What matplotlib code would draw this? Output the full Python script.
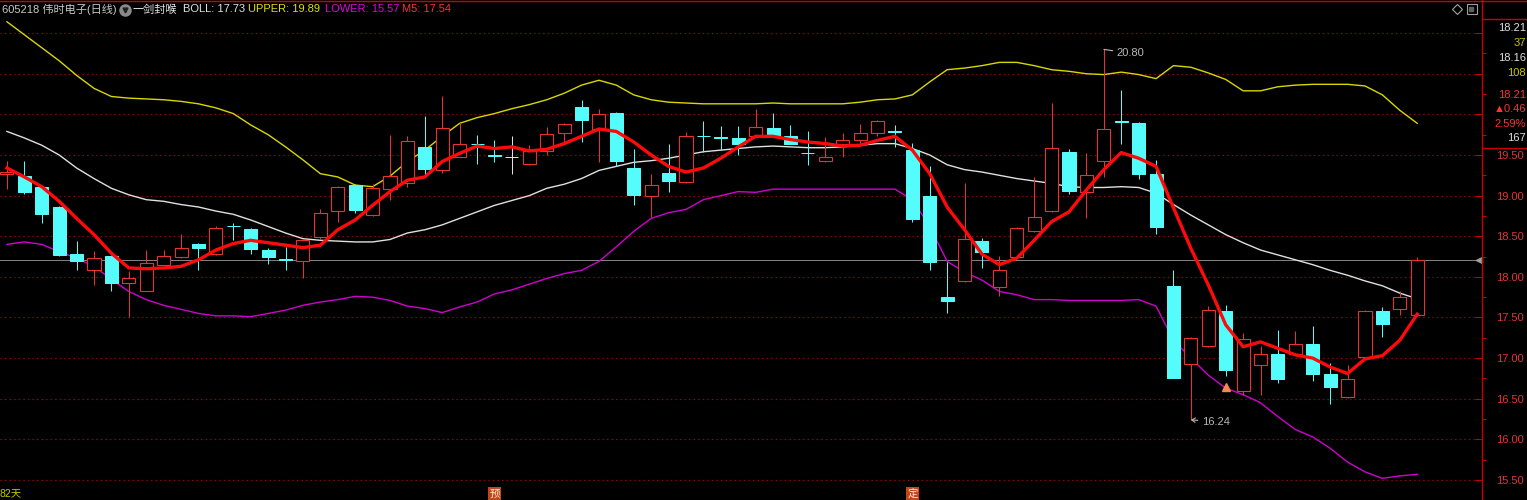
import matplotlib
matplotlib.use('Agg')
import matplotlib.pyplot as plt
from matplotlib.patches import Rectangle
import matplotlib.transforms as mtransforms

plt.rcParams['font.family'] = ['Liberation Sans', 'Noto Sans CJK SC', 'DejaVu Sans']

# ---------------- data ----------------
opens = [19.27, 19.24, 19.10, 18.86, 18.28, 18.09, 18.26, 17.92, 17.83, 18.15,
         18.25, 18.41, 18.28, 18.63, 18.59, 18.33, 18.22, 18.20, 18.49, 18.81,
         19.13, 18.76, 19.08, 19.16, 19.60, 19.32, 19.48, 19.64, 19.50, 19.48,
         19.39, 19.55, 19.77, 20.09, 19.82, 20.02, 19.34, 19.00, 19.28, 19.17,
         19.74, 19.72, 19.71, 19.74, 19.83, 19.73, 19.53, 19.43, 19.64, 19.68,
         19.77, 19.79, 19.56, 18.99, 17.75, 17.95, 18.44, 17.88, 18.24, 18.56,
         18.81, 19.54, 19.04, 19.42, 19.92, 19.90, 19.27, 17.89, 16.93, 17.15,
         17.58, 16.60, 16.92, 17.05, 17.05, 17.17, 16.81, 16.52, 17.01, 17.58,
         17.61, 17.53]
highs = [19.43, 19.43, 19.11, 18.87, 18.44, 18.32, 18.27, 18.07, 18.33, 18.33,
         18.53, 18.42, 18.63, 18.66, 18.60, 18.35, 18.37, 18.46, 18.84, 19.12,
         19.14, 19.14, 19.75, 19.73, 19.98, 20.23, 19.90, 19.75, 19.69, 19.73,
         19.62, 19.84, 19.89, 20.18, 20.07, 20.03, 19.57, 19.27, 19.64, 19.78,
         19.92, 19.86, 19.86, 20.07, 20.02, 19.87, 19.80, 19.72, 19.77, 19.88,
         19.93, 19.87, 19.65, 19.37, 18.18, 19.16, 18.48, 18.26, 18.61, 19.23,
         20.14, 19.58, 19.52, 20.80, 20.30, 19.91, 19.44, 18.08, 17.26, 17.64,
         17.65, 17.31, 17.15, 17.35, 17.33, 17.39, 16.94, 16.92, 17.59, 17.63,
         17.82, 18.24]
lows = [19.08, 19.02, 18.66, 18.26, 18.08, 17.90, 17.82, 17.51, 17.82, 18.14,
        18.23, 18.08, 18.27, 18.45, 18.28, 18.16, 18.08, 17.99, 18.47, 18.68,
        18.78, 18.75, 18.95, 19.10, 19.23, 19.28, 19.47, 19.39, 19.41, 19.27,
        19.38, 19.50, 19.66, 19.66, 19.41, 19.36, 18.88, 18.74, 19.04, 19.16,
        19.54, 19.56, 19.50, 19.73, 19.72, 19.63, 19.38, 19.41, 19.47, 19.62,
        19.73, 19.60, 18.68, 18.09, 17.56, 17.94, 18.11, 17.77, 18.23, 18.55,
        18.80, 19.02, 18.73, 19.23, 19.64, 19.20, 18.53, 16.75, 16.24, 17.14,
        16.78, 16.55, 16.55, 16.69, 17.04, 16.72, 16.44, 16.51, 17.00, 17.26,
        17.53, 17.52]
closes = [19.29, 19.05, 18.77, 18.27, 18.19, 18.23, 17.93, 17.98, 18.17, 18.26,
          18.35, 18.36, 18.60, 18.62, 18.34, 18.25, 18.21, 18.45, 18.78, 19.11,
          18.82, 19.09, 19.24, 19.67, 19.33, 19.83, 19.64, 19.63, 19.49, 19.48,
          19.55, 19.76, 19.88, 19.93, 20.01, 19.43, 19.01, 19.13, 19.18, 19.74,
          19.73, 19.71, 19.64, 19.85, 19.74, 19.64, 19.52, 19.48, 19.69, 19.77,
          19.92, 19.78, 18.71, 18.18, 17.70, 18.47, 18.30, 18.08, 18.60, 18.74,
          19.59, 19.06, 19.25, 19.82, 19.91, 19.27, 18.61, 16.76, 17.25, 17.59,
          16.85, 17.24, 17.05, 16.74, 17.17, 16.80, 16.64, 16.74, 17.58, 17.42,
          17.75, 18.21]
m5 = [19.34, 19.23, 19.11, 18.93, 18.72, 18.52, 18.29, 18.11, 18.10, 18.11,
      18.13, 18.21, 18.33, 18.41, 18.45, 18.42, 18.39, 18.36, 18.39, 18.58,
      18.70, 18.88, 19.05, 19.19, 19.23, 19.42, 19.52, 19.61, 19.58, 19.60,
      19.55, 19.57, 19.64, 19.73, 19.82, 19.79, 19.66, 19.50, 19.36, 19.29,
      19.34, 19.46, 19.60, 19.73, 19.73, 19.69, 19.66, 19.64, 19.61, 19.62,
      19.68, 19.73, 19.56, 19.27, 18.86, 18.58, 18.28, 18.15, 18.23, 18.45,
      18.68, 18.80, 19.07, 19.32, 19.53, 19.46, 19.36, 18.85, 18.35, 17.90,
      17.41, 17.14, 17.20, 17.12, 17.04, 17.00, 16.89, 16.81, 16.99, 17.03,
      17.22, 17.54]
boll_mid = [19.79, 19.71, 19.62, 19.50, 19.34, 19.21, 19.09, 19.01, 18.95, 18.93,
            18.89, 18.86, 18.81, 18.77, 18.70, 18.62, 18.54, 18.47, 18.45, 18.44,
            18.43, 18.43, 18.46, 18.54, 18.58, 18.64, 18.72, 18.80, 18.88, 18.94,
            19.00, 19.09, 19.14, 19.21, 19.31, 19.36, 19.41, 19.43, 19.46, 19.50,
            19.54, 19.56, 19.58, 19.60, 19.61, 19.60, 19.59, 19.59, 19.60, 19.62,
            19.64, 19.64, 19.58, 19.50, 19.38, 19.32, 19.29, 19.25, 19.21, 19.18,
            19.15, 19.11, 19.10, 19.10, 19.11, 19.10, 19.03, 18.89, 18.76, 18.64,
            18.52, 18.42, 18.33, 18.27, 18.21, 18.15, 18.08, 18.02, 17.95, 17.89,
            17.80, 17.73]
boll_upper = [21.14, 20.98, 20.82, 20.66, 20.48, 20.32, 20.22, 20.20, 20.19, 20.18,
              20.16, 20.13, 20.08, 20.01, 19.87, 19.75, 19.60, 19.44, 19.27, 19.23,
              19.13, 19.11, 19.24, 19.42, 19.56, 19.73, 19.89, 19.96, 20.01, 20.07,
              20.12, 20.18, 20.26, 20.36, 20.42, 20.36, 20.24, 20.18, 20.15, 20.14,
              20.13, 20.13, 20.13, 20.13, 20.14, 20.13, 20.13, 20.13, 20.13, 20.15,
              20.18, 20.19, 20.24, 20.40, 20.55, 20.57, 20.60, 20.64, 20.64, 20.60,
              20.55, 20.53, 20.50, 20.49, 20.52, 20.49, 20.44, 20.60, 20.58, 20.51,
              20.43, 20.29, 20.29, 20.34, 20.36, 20.37, 20.37, 20.37, 20.35, 20.24,
              20.05, 19.89]
boll_lower = [18.40, 18.43, 18.40, 18.31, 18.23, 18.13, 17.97, 17.82, 17.72, 17.65,
              17.60, 17.55, 17.52, 17.52, 17.51, 17.55, 17.59, 17.65, 17.69, 17.72,
              17.76, 17.75, 17.71, 17.64, 17.61, 17.56, 17.63, 17.69, 17.79, 17.84,
              17.91, 17.98, 18.04, 18.08, 18.19, 18.37, 18.56, 18.72, 18.79, 18.83,
              18.95, 19.00, 19.05, 19.04, 19.08, 19.08, 19.08, 19.08, 19.08, 19.08,
              19.08, 19.08, 18.95, 18.62, 18.19, 18.06, 17.96, 17.82, 17.78, 17.72,
              17.72, 17.71, 17.71, 17.71, 17.71, 17.72, 17.64, 17.22, 17.00, 16.79,
              16.63, 16.55, 16.45, 16.28, 16.12, 16.03, 15.89, 15.72, 15.60, 15.52,
              15.55, 15.57]
grid_levels = [15.5, 16.0, 16.5, 17.0, 17.5, 18.0, 18.5, 19.0, 19.5, 20.0, 20.5, 21.0]
label_max = 19.5
marker_idx = [28, 52]
marker_text = ['预', '定']
signal_idx = [70]
signal_price = [16.64]
days_label = '82天'
header = [('605218 伟时电子(日线)', '#C8C8C8', 2),
          ('一剑封喉', '#E8E8E8', 133),
          ('BOLL: 17.73', '#E0E0E0', 183),
          ('UPPER: 19.89', '#E0E000', 248),
          ('LOWER: 15.57', '#E000E0', 325),
          ('M5: 17.54', '#FF3232', 402)]
panel_texts = [('18.21', '#E0E0E0', 28), ('37', '#C8C800', 43), ('18.16', '#E0E0E0', 58),
               ('108', '#C8C800', 73), ('18.21', '#FF3232', 95), ('▲0.46', '#FF3232', 109),
               ('2.59%', '#FF3232', 124), ('167', '#E0E0E0', 138)]

# ---------------- layout ----------------
W, H = 1527, 500
AXIS_X = 1482
TOP, BOT = 19, 482
UP, DOWN, FLAT = '#E83232', '#54FCFC', '#E0E0E0'
PX = 0.72  # one pixel in points

fig = plt.figure(figsize=(W / 100, H / 100), dpi=100, facecolor='black')
ax = fig.add_axes([0, 1 - BOT / H, AXIS_X / W, (BOT - TOP) / H])
ax.set_facecolor('black')
n = len(closes)
idx = list(range(n))
ax.set_xlim(-0.40, 84.72)
ax.set_ylim(15.475, 21.174)

bw = 0.75
for i in idx:
    o, h, l, c = opens[i], highs[i], lows[i], closes[i]
    if c > o:
        ax.vlines(i, c, h, color=UP, lw=PX, zorder=3)
        ax.vlines(i, l, o, color=UP, lw=PX, zorder=3)
        ax.add_patch(Rectangle((i - bw / 2, o), bw, c - o, facecolor='black',
                               edgecolor=UP, lw=PX * 1.1, zorder=3))
    elif c < o:
        ax.vlines(i, l, h, color=DOWN, lw=PX, zorder=3)
        ax.add_patch(Rectangle((i - bw / 2, c), bw, o - c, facecolor=DOWN,
                               edgecolor=DOWN, lw=PX, zorder=3))
    else:
        ax.vlines(i, l, h, color=FLAT, lw=PX, zorder=3)
        ax.hlines(c, i - bw / 2, i + bw / 2, color=FLAT, lw=PX, zorder=3)

ax.plot(idx, boll_upper, color='#D8D800', lw=1.0, zorder=2)
ax.plot(idx, boll_lower, color='#D000D0', lw=1.0, zorder=2)
ax.plot(idx, boll_mid, color='#E0E0E0', lw=1.0, zorder=2)
ax.plot(idx, m5, color='#FF0A0A', lw=2.4, zorder=4)

# last price line
ax.axhline(closes[-1], color='#808080', lw=PX, zorder=1)
ax.plot([84.55], [closes[-1]], marker='<', ms=5, color='#A0A0A0', clip_on=False, zorder=5)

# signal marker
ax.plot(signal_idx, signal_price, '^', ms=6, color='#F08850', mec='#F08850', zorder=5)

# max / min annotations
imax = max(idx, key=lambda k: highs[k])
imin = min(idx, key=lambda k: lows[k])
ax.annotate(f'{highs[imax]:.2f}', xy=(imax, highs[imax]), xytext=(13, -4),
            textcoords='offset pixels', color='#B8B8B8', fontsize=8, va='center',
            arrowprops=dict(arrowstyle='-', color='#B8B8B8', lw=0.8,
                            shrinkA=1, shrinkB=0), zorder=6)
ax.annotate(f'{lows[imin]:.2f}', xy=(imin, lows[imin]), xytext=(11, -2),
            textcoords='offset pixels', color='#B8B8B8', fontsize=8, va='center',
            ha='left', zorder=6,
            arrowprops=dict(arrowstyle='->,head_length=0.3,head_width=0.2',
                            color='#B8B8B8', lw=0.8, shrinkA=1, shrinkB=0))

# grid + axis
ax.set_yticks(grid_levels)
ax.set_yticklabels([f'{v:.2f}' if v <= label_max else '' for v in grid_levels])
ax.set_yticks([v + 0.25 for v in grid_levels[:-1]], minor=True)
ax.yaxis.tick_right()
ax.tick_params(axis='y', which='major', direction='in', length=5, width=PX,
               color='#C00000', pad=10, labelsize=8, labelcolor='#E83232')
ax.tick_params(axis='y', which='minor', direction='out', length=3, width=PX,
               color='#C00000')
ax.tick_params(axis='x', bottom=False, labelbottom=False)
ax.grid(axis='y', which='major', color='#A00000', lw=PX * 1.2, linestyle=(0, (1.2, 2.6)))
for s in ax.spines.values():
    s.set_visible(False)

# ---------------- decorations (pixel overlay) ----------------
deco = fig.add_axes([0, 0, 1, 1], zorder=10)
deco.set_xlim(0, W)
deco.set_ylim(H, 0)
deco.axis('off')
deco.patch.set_alpha(0)
deco.plot([AXIS_X, AXIS_X], [0, H], color='#C80000', lw=1.0)
deco.plot([0, W], [0.5, 0.5], color='#C80000', lw=1.0)
deco.plot([AXIS_X, W], [19, 19], color='#C80000', lw=1.0)
deco.plot([AXIS_X, W], [148, 148], color='#C80000', lw=1.0)

for txt, col, x in header:
    deco.text(x, 9.5, txt, color=col, fontsize=8, va='center', ha='left')
deco.plot([125], [9.5], 'o', ms=8, color='#8A8A8A')
deco.plot([125], [10], 'v', ms=3.5, color='#202020')

deco.plot([1457], [9], 'D', ms=5, mfc='none', mec='#A0A0A0', mew=0.8)
deco.plot([1472], [9], 's', ms=7, mfc='none', mec='#A0A0A0', mew=0.8)
deco.plot([1471], [9], 's', ms=3, mfc='#606060', mec='#606060')

for txt, col, y in panel_texts:
    deco.text(1526, y, txt, color=col, fontsize=8, va='center', ha='right',
              family=['Liberation Sans', 'DejaVu Sans'])

deco.text(0, 493, days_label, color='#C8C800', fontsize=7.5, va='center', ha='left')
blend = mtransforms.blended_transform_factory(ax.transData, deco.transData)
for i, t in zip(marker_idx, marker_text):
    deco.text(i, 493.5, t, transform=blend, color='#FFE8D0', fontsize=7.5,
              va='center', ha='center',
              bbox=dict(boxstyle='square,pad=0.1', fc='#C04818', ec='none'))

fig.savefig('out.png', dpi=100, facecolor='black')
